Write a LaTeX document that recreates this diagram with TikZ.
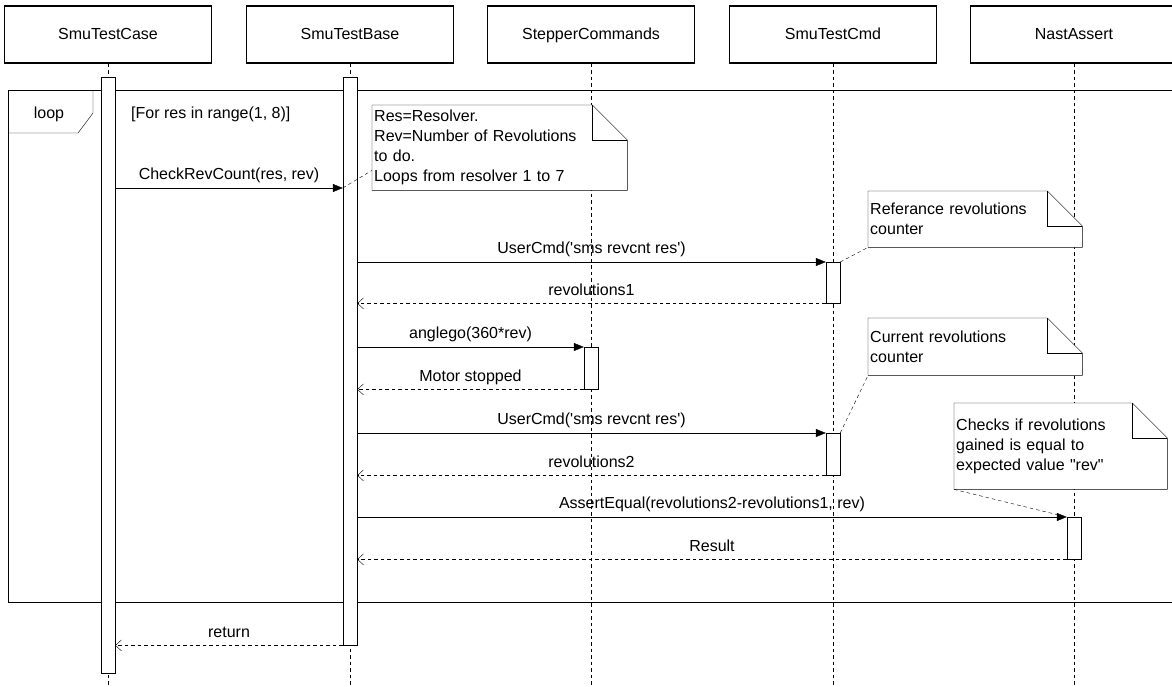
\documentclass[tikz,border=0pt]{standalone}
\usepackage{fontspec}
\setmainfont{Liberation Sans}
\usetikzlibrary{arrows.meta}
\pgfdeclarelayer{back}
\pgfdeclarelayer{mid}
\pgfsetlayers{back,mid,main}
% straight quote glyphs, bypassing the TeX ligature mapping
\newcommand\sq{\XeTeXglyph\XeTeXglyphindex "quotesingle"\relax}
\newcommand\dq{\XeTeXglyph\XeTeXglyphindex "quotedbl"\relax}
% note outline with a folded top-right corner, drawn behind the note text
\newcommand\notefold[1]{%
  \begin{pgfonlayer}{mid}
    \draw[fill=white] (#1.north west) -- ([xshift=-35pt]#1.north east)
      -- ([yshift=-35pt]#1.north east) -- (#1.south east) -- (#1.south west) -- cycle;
    \draw ([xshift=-35pt]#1.north east) |- ([yshift=-35pt]#1.north east);
  \end{pgfonlayer}}
\begin{document}
\begin{tikzpicture}[x=1pt,y=-1pt,line width=1.2pt,
  font=\fontsize{16}{20}\selectfont,
  capline/.style={text height=11.5pt, text depth=1pt},
  header/.style={draw, minimum width=207pt, minimum height=57pt, inner sep=0pt, capline},
  lifeline/.style={dash pattern=on 3.5pt off 3pt},
  actbar/.style={draw, fill=white, minimum width=14pt, inner sep=0pt, anchor=north},
  call/.style={-{Triangle[length=10pt,width=8pt]}},
  reply/.style={dash pattern=on 3.5pt off 3pt, -{Straight Barb[length=6pt,width=11pt]}},
  lbl/.style={anchor=base, yshift=8.3pt, inner sep=0pt},
  notebox/.style={anchor=north west, align=left, inner xsep=2pt, inner ysep=0pt},
  notelink/.style={dash pattern=on 3.5pt off 3pt}]
\useasboundingbox (0,0) rectangle (1172,687);
\coordinate (bottom) at (0,687);

% participants
\node[header] (h1) at (108,34.5) {SmuTestCase};
\node[header] (h2) at (350,34.5) {SmuTestBase};
\node[header] (h3) at (591,34.5) {StepperCommands};
\node[header] (h4) at (833,34.5) {SmuTestCmd};
\node[header] (h5) at (1074,34.5) {NastAssert};

\begin{pgfonlayer}{back}
  \foreach \h in {h1,h2,h3,h4,h5}
    \draw[lifeline] (\h.south) -- (\h.south |- bottom);
  % loop fragment
  \draw (1172,90) -- (8,90) -- (8,602) -- (1172,602);
  \draw (8,133) -- (78,133) -- (93,113) -- (93,90);
\end{pgfonlayer}
\node[capline] (looplbl) at (49,113) {loop};
\node[anchor=west, inner sep=0pt, capline] (guard) at (131,113) {[For res in range(1, 8)]};

% activations
\node[actbar, minimum height=596pt] (a1) at (108,77) {};
\node[actbar, minimum height=568pt] (a2) at (350,77) {};
\node[actbar, minimum height=41pt] (c1) at (833,262) {};
\node[actbar, minimum height=42pt] (s1) at (591,347) {};
\node[actbar, minimum height=42pt] (c2) at (833,433) {};
\node[actbar, minimum height=42pt] (e1) at (1074,517) {};

% messages
\coordinate (m1) at (0,188);
\draw[call] (a1.east |- m1) -- node[lbl] (l1) {CheckRevCount(res, rev)} (a2.west |- m1);
\draw[call] (a2.east |- c1.north) -- node[lbl] (l2) {UserCmd(\sq sms revcnt res\sq)} (c1.north west);
\draw[reply] (c1.south west) -- node[lbl] (l3) {revolutions1} (a2.east |- c1.south);
\draw[call] (a2.east |- s1.north) -- node[lbl] (l4) {anglego(360*rev)} (s1.north west);
\draw[reply] (s1.south west) -- node[lbl] (l5) {Motor stopped} (a2.east |- s1.south);
\draw[call] (a2.east |- c2.north) -- node[lbl] (l6) {UserCmd(\sq sms revcnt res\sq)} (c2.north west);
\draw[reply] (c2.south west) -- node[lbl] (l7) {revolutions2} (a2.east |- c2.south);
\draw[call] (a2.east |- e1.north) -- node[lbl] (l8) {AssertEqual(revolutions2-revolutions1, rev)} (e1.north west);
\draw[reply] (e1.south west) -- node[lbl] (l9) {Result} (a2.east |- e1.south);
\draw[reply] (a2.south west) -- node[lbl] (l10) {return} (a1.east |- a2.south);

% notes
\node[notebox, text width=251pt, minimum height=85pt] (n1) at (372,105)
  {Res=Resolver.\\Rev=Number of Revolutions\\to do.\\Loops from resolver 1 to 7};
\notefold{n1}
\node[notebox, text width=210pt, minimum height=56pt] (n2) at (868,191)
  {Referance revolutions\\counter};
\notefold{n2}
\node[notebox, text width=210pt, minimum height=57pt] (n3) at (868,318)
  {Current revolutions\\counter};
\notefold{n3}
\node[notebox, text width=209pt, minimum height=86pt] (n4) at (954,403)
  {Checks if revolutions\\gained is equal to\\expected value \dq rev\dq};
\notefold{n4}

% note anchors
\draw[notelink] (a2.west |- m1) -- ([yshift=20pt]n1.south west);
\draw[notelink] (c1.north east) -- (n2.south west);
\draw[notelink] (c2.north east) -- (n3.south west);
\draw[notelink] (n4.south west) -- (e1.north west);
\end{tikzpicture}
\end{document}
